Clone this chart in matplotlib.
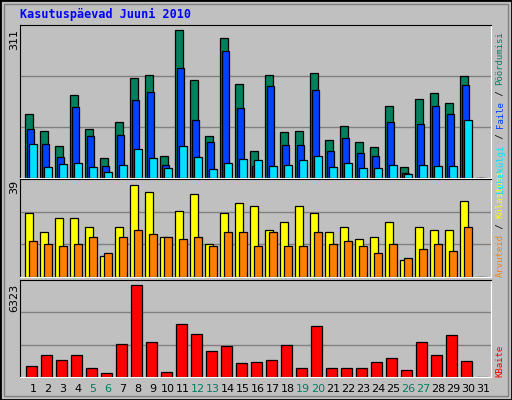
import numpy as np
import matplotlib.pyplot as plt
from matplotlib.patches import Rectangle

days = list(range(1, 32))
weekend = [5, 6, 12, 13, 19, 20, 26, 27]

hits = [134, 98, 68, 174, 102, 41, 117, 210, 216, 47, 311, 205, 89, 294, 197,
        56, 216, 96, 98, 220, 79, 108, 75, 64, 151, 22, 165, 178, 157, 214, 0]
files = [102, 72, 45, 148, 87, 26, 91, 163, 180, 28, 231, 121, 75, 265, 146,
         26, 193, 70, 70, 184, 56, 83, 53, 47, 117, 11, 113, 151, 134, 195, 0]
pages = [72, 24, 30, 32, 24, 13, 28, 60, 41, 20, 66, 43, 18, 32, 39,
         37, 26, 28, 37, 47, 22, 32, 20, 20, 28, 9, 28, 26, 26, 121, 0]
visits = [27, 19, 25, 25, 21, 9, 21, 39, 36, 17, 28, 35, 14, 27, 31,
          30, 20, 23, 30, 27, 19, 21, 16, 17, 23, 7, 21, 20, 20, 32, 0]
sites = [15, 14, 13, 14, 17, 10, 17, 20, 18, 17, 16, 17, 13, 19, 19,
         13, 19, 13, 13, 19, 14, 15, 13, 10, 14, 8, 12, 14, 11, 21, 0]
kbytes = [784, 1477, 1131, 1477, 646, 300, 2238, 6323, 2377, 369, 3623, 2931,
          1754, 2100, 923, 992, 1131, 2169, 646, 3485, 646, 646, 646, 992,
          1269, 508, 2377, 1477, 2862, 1062, 0]

W, H = 512, 400
BG = '#c0c0c0'
mono = 'DejaVu Sans Mono'

fig = plt.figure(figsize=(W / 100, H / 100), dpi=100, facecolor=BG)
# outer frame
fig.patches.append(Rectangle((0, 0), 1, 1, transform=fig.transFigure,
                             fill=False, ec='black', lw=2))
fig.patches.append(Rectangle((4 / W, 4 / H), 1 - 8 / W, 1 - 8 / H, transform=fig.transFigure,
                             fill=False, ec='#808080', lw=1))


def panel(top, bottom, vmax, ytop):
    # ytop = pixel row where vmax sits
    ax = fig.add_axes([20 / W, 1 - bottom / H, (491 - 20) / W, (bottom - top) / H])
    ax.set_facecolor(BG)
    ax.set_xlim(1 - 5 / 15, 1 + 466 / 15)
    lim = vmax * (bottom - top) / (bottom - ytop)
    ax.set_ylim(0, lim)
    for f in (1 / 3, 2 / 3):
        ax.axhline(lim * f, color='#808080', lw=1, zorder=0)
    ax.set_xticks([])
    ax.set_yticks([])
    for s in ax.spines.values():
        s.set_color('black')
    ax.spines['right'].set_color('white')
    ax.spines['bottom'].set_color('white')
    return ax


kw = dict(align='edge', edgecolor='black', linewidth=0.9)
ax1 = panel(25, 178, 311, 29.5)
ax1.bar(days, hits, width=0.5, color='#00805c', **kw)
ax1.bar(np.array(days) + 0.13, files, width=0.5, color='#0040ff', **kw)
ax1.bar(np.array(days) + 0.27, pages, width=0.5, color='#00e0ff', **kw)

ax2 = panel(179, 277, 39, 184.5)
ax2.bar(days, visits, width=0.55, color='#ffff00', **kw)
ax2.bar(np.array(days) + 0.27, sites, width=0.5, color='#ff8000', **kw)

ax3 = panel(280, 377, 6323, 284.5)
ax3.bar(np.array(days) + 0.07, kbytes, width=0.7, color='#ff0000', **kw)

for d in days:
    x = (25 + 15 * (d - 1) + 8) / W
    fig.text(x, 1 - 389 / H, str(d), ha='center', va='center', fontsize=8,
             color='#008060' if d in weekend else 'black')

fig.text(20 / W, 1 - 14 / H, 'Kasutuspäevad Juuni 2010', family=mono, weight='bold',
         fontsize=8.5, color='#0000ff', va='center', ha='left')

for lab, ytop in (('311', 29), ('39', 180), ('6323', 284)):
    fig.text(14 / W, 1 - ytop / H, lab, rotation=90, fontsize=8, va='top', ha='center')


def side(pieces, ybottom, step=5.4):
    y = ybottom
    for txt, col in pieces:
        fig.text(500 / W, 1 - y / H, txt, rotation=90, family=mono, fontsize=6.5,
                 color=col, ha='center', va='bottom')
        y -= len(txt) * step


side([('Lehekülgi', '#00e0ff'), (' / ', 'black'), ('Faile', '#0040ff'),
      (' / ', 'black'), ('Pöördumisi', '#00805c')], 193)
side([('Arvuteid', '#ff8000'), (' / ', 'black'), ('Külastusi', '#ffff00')], 277)
side([('KBaite', '#ff0000')], 377)

fig.savefig('out.png', dpi=100, facecolor=BG)
